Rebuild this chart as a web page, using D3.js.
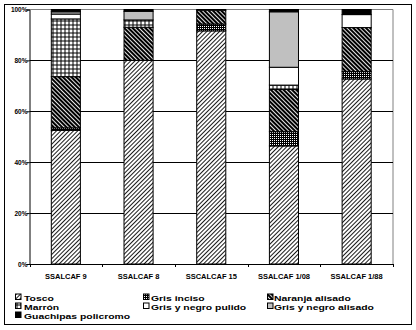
<!DOCTYPE html>
<html><head><meta charset="utf-8">
<script src="https://cdn.jsdelivr.net/npm/d3@7"></script>
<style>body{margin:0;background:#fff}svg{display:block}text{font-family:"Liberation Sans",Arial,sans-serif;font-weight:bold}</style>
</head><body>
<script>
const categories = ["SSALCAF 9","SSALCAF 8","SSCALCAF 15","SSALCAF 1/08","SSALCAF 1/88"];
const seriesNames = ["Tosco","Gris inciso","Naranja alisado","Marrón","Gris y negro pulido","Gris y negro alisado","Guachipas policromo"];
const tosco      = [52.5, 80.0, 91.6, 46.4, 72.7];
const grisInciso = [ 1.0,  0.0,  2.7,  5.6,  2.9];
const naranja    = [20.1, 13.0,  5.4, 16.6, 17.3];
const marron     = [22.7,  2.9,  0.3,  1.7,  0.0];
const pulido     = [ 1.9,  0.0,  0.0,  7.0,  5.1];
const alisado    = [ 0.9,  3.4,  0.0, 21.8,  0.0];
const guachipas  = [ 0.9,  0.7,  0.0,  0.9,  2.0];
const yTicks = [0,20,40,60,80,100];
const yTickLabels = ["0%","20%","40%","60%","80%","100%"];

const seriesValues = [tosco, grisInciso, naranja, marron, pulido, alisado, guachipas];
const fills = ["url(#pTosco)","url(#pInciso)","url(#pNaranja)","url(#pMarron)","#ffffff","#c0c0c0","#000000"];
const legendRows = [[0,1,2],[3,4,5],[6]];

const W=416,H=330;
const svg=d3.select("body").append("svg").attr("width",W).attr("height",H);
const defs=svg.append("defs");
let p=defs.append("pattern").attr("id","pTosco").attr("patternUnits","userSpaceOnUse").attr("width",3).attr("height",3).attr("patternTransform","rotate(45)");
p.append("rect").attr("width",3).attr("height",3).attr("fill","#fff");
p.append("line").attr("x1",0.5).attr("x2",0.5).attr("y1",0).attr("y2",3).attr("stroke","#000").attr("stroke-width",0.9);
p=defs.append("pattern").attr("id","pInciso").attr("patternUnits","userSpaceOnUse").attr("width",2).attr("height",2);
p.append("rect").attr("width",2).attr("height",2).attr("fill","#000");
p.append("rect").attr("width",1).attr("height",1).attr("fill","#fff");
p=defs.append("pattern").attr("id","pNaranja").attr("patternUnits","userSpaceOnUse").attr("width",3).attr("height",3).attr("patternTransform","rotate(-45)");
p.append("rect").attr("width",3).attr("height",3).attr("fill","#000");
p.append("rect").attr("width",0.9).attr("height",3).attr("fill","#fff");
p=defs.append("pattern").attr("id","pMarron").attr("patternUnits","userSpaceOnUse").attr("width",4).attr("height",4).attr("x",0.5).attr("y",0.5);
p.append("rect").attr("width",4).attr("height",4).attr("fill","#fff");
p.append("rect").attr("width",4).attr("height",1).attr("fill","#000");
p.append("rect").attr("width",1).attr("height",4).attr("fill","#000");

svg.append("rect").attr("x",4.5).attr("y",4.5).attr("width",407).attr("height",320).attr("fill","#fff").attr("stroke","#000").attr("stroke-width",1);

const x0=29.5,x1=393,yB=264,yT=9.5;
const x=d3.scaleBand().domain(categories).range([x0,x1]).paddingInner(0.6).paddingOuter(0.3);
const y=d3.scaleLinear().domain([0,100]).range([yB,yT]);

svg.append("path").attr("d",`M${x0},${yT}H${x1}V${yB}`).attr("fill","none").attr("stroke","#808080").attr("stroke-width",1);
svg.append("g").selectAll("line").data(yTicks.filter(t=>t>0&&t<100)).join("line")
  .attr("x1",x0).attr("x2",x1).attr("y1",d=>Math.round(y(d))+0.5).attr("y2",d=>Math.round(y(d))+0.5)
  .attr("stroke","#000").attr("stroke-width",1);

const rows=categories.map((c,i)=>{const o={cat:c};seriesNames.forEach((s,k)=>o[s]=seriesValues[k][i]);return o;});
const stack=d3.stack().keys(seriesNames)(rows);
const g=svg.append("g");
stack.forEach((layer,k)=>{
  g.selectAll(null).data(layer.filter(d=>d[1]-d[0]>0)).join("rect")
    .attr("x",d=>x(d.data.cat)).attr("width",x.bandwidth())
    .attr("y",d=>y(d[1])).attr("height",d=>y(d[0])-y(d[1]))
    .attr("fill",fills[k]).attr("stroke","#000").attr("stroke-width",1);
});

const ya=svg.append("g").attr("transform",`translate(${x0},0)`).call(d3.axisLeft(y).tickValues(yTicks).tickSize(3).tickFormat((d,i)=>yTickLabels[i]));
ya.select(".domain").attr("stroke","#000");
ya.selectAll("text").attr("font-size","6.5px").attr("font-family","Liberation Sans, Arial, sans-serif").attr("font-weight","bold").attr("x",-2);
const xa=svg.append("g").attr("transform",`translate(0,${yB})`).call(d3.axisBottom(x).tickSize(0).tickSizeOuter(0));
xa.select(".domain").attr("stroke","#000");
xa.selectAll("text").attr("font-size","7.5px").attr("font-family","Liberation Sans, Arial, sans-serif").attr("font-weight","bold").attr("dy",0).attr("y",14.5);
const bounds=d3.range(categories.length+1).map(i=>x0+i*x.step());
xa.selectAll(".bt").data(bounds).join("line").attr("class","bt")
  .attr("x1",d=>Math.round(d)+0.5).attr("x2",d=>Math.round(d)+0.5).attr("y1",0).attr("y2",3).attr("stroke","#000");

const colSym=[15,143,267], colTxt=[24,151,274], rowBase=[300.5,309.5,318.5];
const lg=svg.append("g");
legendRows.forEach((row,r)=>row.forEach((k,c)=>{
  lg.append("rect").attr("x",colSym[c]+0.5).attr("y",rowBase[r]-6.5).attr("width",5.5).attr("height",5.5)
    .attr("fill",fills[k]).attr("stroke","#000").attr("stroke-width",1);
  lg.append("g").attr("transform",`translate(${colTxt[c]},${rowBase[r]}) scale(1.3,1)`)
    .append("text").attr("x",0).attr("y",0).attr("font-size","8px").text(seriesNames[k]);
}));
</script>
</body></html>
